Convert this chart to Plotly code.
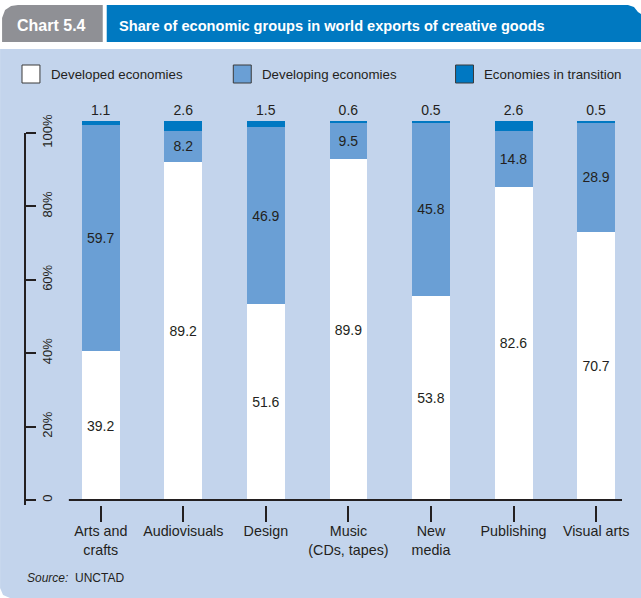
import plotly.graph_objects as go

# Share of world exports of creative goods, by economic group (%)
categories = ["Arts and<br>crafts", "Audiovisuals", "Design", "Music<br>(CDs, tapes)",
              "New<br>media", "Publishing", "Visual arts"]
developed = [39.2, 89.2, 51.6, 89.9, 53.8, 82.6, 70.7]
developing = [59.7, 8.2, 46.9, 9.5, 45.8, 14.8, 28.9]
transition = [1.1, 2.6, 1.5, 0.6, 0.5, 2.6, 0.5]
series_names = ["Developed economies", "Developing economies", "Economies in transition"]
y_ticks = [0, 20, 40, 60, 80, 100]
y_ticklabels = ["0", "20%", "40%", "60%", "80%", "100%"]

W, H = 641, 598
ML, MR, MT, MB = 25, 17, 105, 93
PW, PH = W - ML - MR, H - MT - MB

INK = "#231f20"
PANEL = "#c3d4ec"
C_DEVELOPED = "#ffffff"
C_DEVELOPING = "#6a9fd5"
C_TRANSITION = "#0078c2"
HEAD_BLUE = "#0079c1"
HEAD_GREY = "#8f9095"
FONT = "Liberation Sans, Arial, sans-serif"


def px(x):
    return (x - ML) / PW


def py(y):
    return (MT + PH - y) / PH


def path(points, closed=True):
    d = "M" + " L".join(f"{px(x):.5f},{py(y):.5f}" for x, y in points)
    return d + (" Z" if closed else "")


fig = go.Figure()

fig.add_trace(go.Bar(
    x=categories, y=developed, name=series_names[0],
    marker=dict(color=C_DEVELOPED, line=dict(width=0)),
    text=[f"{v:.1f}" for v in developed], textposition="inside",
    insidetextanchor="middle", textangle=0,
    insidetextfont=dict(family=FONT, size=14, color=INK),
))
fig.add_trace(go.Bar(
    x=categories, y=developing, name=series_names[1],
    marker=dict(color=C_DEVELOPING, line=dict(width=0)),
    text=[f"{v:.1f}" for v in developing], textposition="inside",
    insidetextanchor="middle", textangle=0,
    insidetextfont=dict(family=FONT, size=14, color=INK),
))
fig.add_trace(go.Bar(
    x=categories, y=transition, name=series_names[2],
    marker=dict(color=C_TRANSITION, line=dict(width=0)),
    text=[f"{v:.1f}" for v in transition], textposition="outside",
    textangle=0, cliponaxis=False,
    outsidetextfont=dict(family=FONT, size=14, color=INK),
))
# carrier for the percentage scale on the left (its own shorter domain)
fig.add_trace(go.Scatter(x=[categories[0]], y=[None], yaxis="y2",
                         showlegend=False, hoverinfo="skip"))

shapes = []
# light blue panel with rounded lower-left corner
shapes.append(dict(type="path", xref="paper", yref="paper", layer="below",
                   path=path([(0, 49), (W + 5, 49), (W + 5, H + 5), (10, H),
                              (3, H - 3), (0, H - 10)]),
                   fillcolor=PANEL, line=dict(width=0)))
# grey tab
shapes.append(dict(type="path", xref="paper", yref="paper", layer="below",
                   path=path([(2, 42), (2, 18), (5, 10), (11, 6), (18, 5), (103, 5), (103, 42)]),
                   fillcolor=HEAD_GREY, line=dict(width=0)))
# blue title bar
shapes.append(dict(type="path", xref="paper", yref="paper", layer="below",
                   path=path([(107, 42), (107, 5), (630, 5), (636, 7), (640, 12), (W + 5, 16),
                              (W + 5, 42)]),
                   fillcolor=HEAD_BLUE, line=dict(width=0)))
# x axis baseline
shapes.append(dict(type="line", xref="paper", yref="y", x0=px(69), x1=px(624), y0=0, y1=0,
                   line=dict(color=INK, width=2), layer="above"))

annotations = [
    dict(text="<b>Chart 5.4</b>", x=px(15), y=py(25), xref="paper", yref="paper",
         xanchor="left", yanchor="middle", showarrow=False,
         font=dict(family=FONT, size=16, color="white")),
    dict(text="<b>Share of economic groups in world exports of creative goods</b>",
         x=px(117), y=py(26), xref="paper", yref="paper", xanchor="left", yanchor="middle",
         showarrow=False,
         font=dict(family=FONT, size=14.6, color="white")),
    dict(text="<i>Source:</i>  UNCTAD", x=px(25), y=py(578), xref="paper", yref="paper",
         xanchor="left", yanchor="middle", showarrow=False,
         font=dict(family=FONT, size=12, color=INK)),
]

# legend keys
legend_colors = [C_DEVELOPED, C_DEVELOPING, C_TRANSITION]
legend_x = [22, 234, 457]
for name, col, lx in zip(series_names, legend_colors, legend_x):
    shapes.append(dict(type="rect", xref="paper", yref="paper",
                       x0=px(lx), x1=px(lx + 18), y0=py(83), y1=py(65),
                       fillcolor=col, line=dict(color="#3a3a3a", width=1)))
    annotations.append(dict(text=name, x=px(lx + 27), y=py(74), xref="paper", yref="paper",
                            xanchor="left", yanchor="middle", showarrow=False,
                            font=dict(family=FONT, size=13.3, color=INK)))

bar_ppu = (500 - 121) / 100.0
axis_ppu = (500 - 133) / 100.0
unit = 82.84

fig.update_layout(
    width=W, height=H,
    margin=dict(l=ML, r=MR, t=MT, b=MB, pad=0),
    paper_bgcolor="white", plot_bgcolor="rgba(0,0,0,0)",
    barmode="stack", bargap=1 - 38 / unit,
    showlegend=False,
    font=dict(family=FONT, size=14, color=INK),
    xaxis=dict(
        type="category", range=[-(101 - ML) / unit, -(101 - ML) / unit + PW / unit],
        showgrid=False, zeroline=False, showline=False,
        ticks="outside", ticklen=16, tickwidth=2, tickcolor=INK,
        ticklabelstandoff=-3,
        tickfont=dict(family=FONT, size=14.3, color=INK), fixedrange=True,
    ),
    yaxis=dict(
        range=[-(505 - 500) / bar_ppu, (500 - MT) / bar_ppu],
        visible=False, showgrid=False, zeroline=False, fixedrange=True,
    ),
    yaxis2=dict(
        anchor="free", position=0, side="right",
        domain=[0, (505 - 133) / PH],
        range=[-(505 - 500) / axis_ppu, 100],
        tickvals=y_ticks, ticktext=y_ticklabels, tickangle=-90,
        ticks="outside", ticklen=10, tickwidth=2, tickcolor=INK,
        showline=True, linewidth=2, linecolor=INK,
        showgrid=False, zeroline=False, fixedrange=True,
        tickfont=dict(family=FONT, size=13, color=INK),
    ),
    shapes=shapes,
    annotations=annotations,
)

fig.write_html("out.html")
